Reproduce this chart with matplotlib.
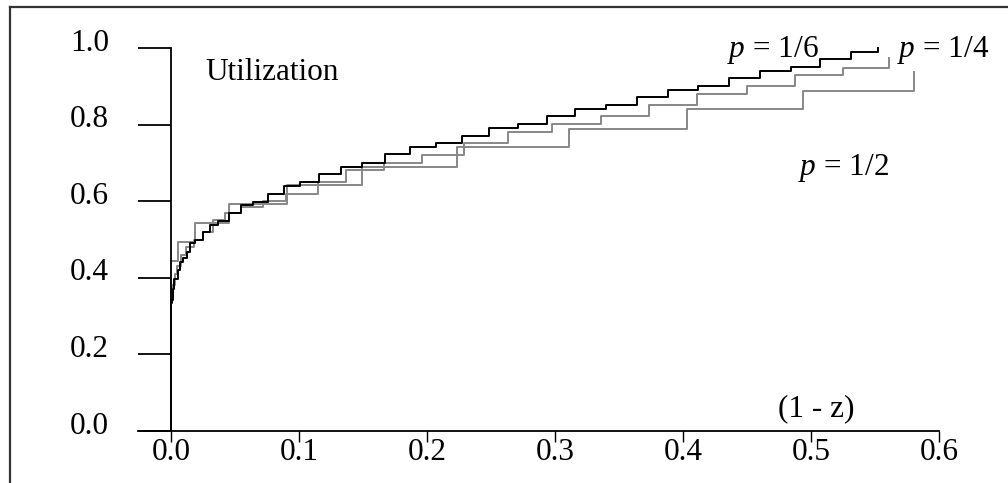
import matplotlib
matplotlib.use("Agg")
import matplotlib.pyplot as plt
from matplotlib.lines import Line2D
from matplotlib.transforms import ScaledTranslation

plt.rcParams['font.family'] = ['Liberation Serif', 'DejaVu Serif']
plt.rcParams['mathtext.fontset'] = 'custom'
plt.rcParams['mathtext.it'] = 'Liberation Serif:italic'
plt.rcParams['mathtext.rm'] = 'Liberation Serif'

# ---- data: step curves (x where the step begins, utilization level) ----
x_p6 = [0, 0, 0.0005, 0.0013, 0.0026, 0.0057, 0.007, 0.0096, 0.0122, 0.0148, 0.0188,
        0.0247, 0.0305, 0.037, 0.0456, 0.0547, 0.0638, 0.076, 0.088, 0.101, 0.116,
        0.133, 0.149, 0.167, 0.187, 0.207, 0.2276, 0.2487, 0.271, 0.2935, 0.316,
        0.340, 0.364, 0.388, 0.412, 0.436, 0.460, 0.484, 0.507, 0.531, 0.5526, 0.5526]
y_p6 = [0, 0.333, 0.342, 0.370, 0.397, 0.420, 0.442, 0.451, 0.468, 0.490, 0.499,
        0.519, 0.538, 0.549, 0.568, 0.590, 0.599, 0.619, 0.640, 0.651, 0.671,
        0.690, 0.700, 0.722, 0.741, 0.751, 0.771, 0.792, 0.802, 0.822, 0.842,
        0.852, 0.871, 0.890, 0.901, 0.921, 0.941, 0.951, 0.970, 0.990, 0.990, 0.999]

x_p4 = [0, 0, 0.001, 0.003, 0.005, 0.008, 0.012, 0.018, 0.025, 0.033, 0.042, 0.055,
        0.072, 0.090, 0.115, 0.137, 0.1664, 0.1964, 0.2289, 0.2635, 0.298, 0.336,
        0.3737, 0.4107, 0.4497, 0.4875, 0.5247, 0.5607, 0.5607]
y_p4 = [0, 0.35, 0.38, 0.41, 0.43, 0.46, 0.48, 0.50, 0.52, 0.55, 0.57, 0.585,
        0.60, 0.62, 0.649, 0.681, 0.699, 0.7206, 0.751, 0.780, 0.801, 0.822,
        0.851, 0.881, 0.901, 0.9295, 0.949, 0.949, 0.973]

x_p2 = [0, 0, 0.0057, 0.0188, 0.0456, 0.091, 0.149, 0.2237, 0.311, 0.4034, 0.4935,
        0.5805, 0.5805]
y_p2 = [0, 0.444, 0.493, 0.544, 0.593, 0.642, 0.690, 0.741, 0.789, 0.840, 0.889,
        0.889, 0.938]

y_ticks = [0.0, 0.2, 0.4, 0.6, 0.8, 1.0]
y_tick_labels = ["0.0", "0.2", "0.4", "0.6", "0.8", "1.0"]
x_ticks = [0.0, 0.1, 0.2, 0.3, 0.4, 0.5, 0.6]
x_tick_labels = ["0.0", "0.1", "0.2", "0.3", "0.4", "0.5", "0.6"]

W, H = 1008, 483
FS = 22.5
fig = plt.figure(figsize=(W / 100, H / 100), dpi=100)
ax = fig.add_axes([138 / W, (H - 431) / H, (939 - 138) / W, (431 - 48) / H])

gray = '#878787'
ax.step(x_p2, y_p2, where='post', color=gray, lw=1.4, clip_on=False)
ax.step(x_p4, y_p4, where='post', color=gray, lw=1.4, clip_on=False)
ax.step(x_p6, y_p6, where='post', color='black', lw=1.4, clip_on=False)

ax.set_xlim(-33 / 1280, 0.6)
ax.set_ylim(0, 1.0)

for s in ['top', 'right']:
    ax.spines[s].set_visible(False)
ax.spines['left'].set_position(('data', 0))
ax.spines['left'].set_linewidth(1.3)
ax.spines['bottom'].set_linewidth(1.3)

ax.set_yticks(y_ticks)
ax.set_yticklabels(y_tick_labels)
ax.set_xticks(x_ticks)
ax.set_xticklabels(x_tick_labels)
ax.tick_params(axis='y', direction='out', length=23.8, width=1.3, pad=21, labelsize=FS)
ax.tick_params(axis='x', direction='out', length=8, width=1.0, pad=-3, labelsize=FS)

off = ScaledTranslation(0, 6 / 72, fig.dpi_scale_trans)
for lab in ax.get_yticklabels():
    lab.set_transform(lab.get_transform() + off)

fig.text(205 / W, 1 - 73 / H, "Utilization", fontsize=FS, va='center', ha='left')
fig.text(778 / W, 1 - 409 / H, "(1 - z)", fontsize=FS, va='center', ha='left')
fig.text(727 / W, 1 - 50 / H, r"$p$ = 1/6", fontsize=FS, va='center', ha='left')
fig.text(897 / W, 1 - 50 / H, r"$p$ = 1/4", fontsize=FS, va='center', ha='left')
fig.text(798 / W, 1 - 168 / H, r"$p$ = 1/2", fontsize=FS, va='center', ha='left')

# outer frame (top and left visible)
fig.add_artist(Line2D([10 / W, 10 / W], [0, 1 - 7 / H], color='#333333', lw=1.6))
fig.add_artist(Line2D([10 / W, 1], [1 - 7 / H, 1 - 7 / H], color='#333333', lw=1.6))

fig.savefig("out.png", dpi=100)
